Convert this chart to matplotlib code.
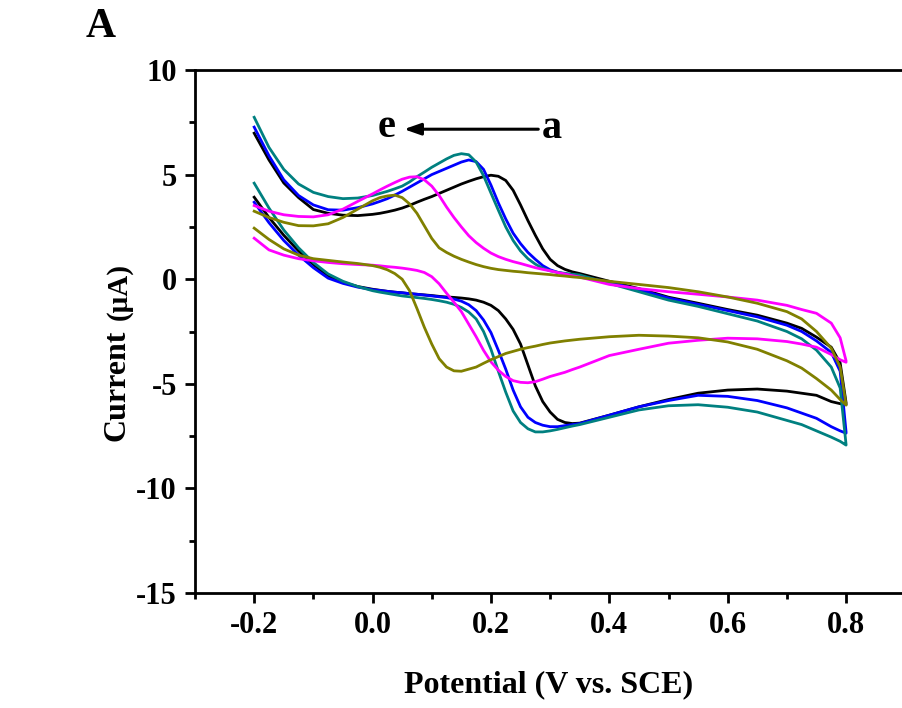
import matplotlib
matplotlib.use("Agg")
import matplotlib.pyplot as plt
from matplotlib.ticker import MultipleLocator, FormatStrFormatter

plt.rcParams['font.family'] = ['Liberation Serif', 'DejaVu Serif']
plt.rcParams['font.weight'] = 'bold'
plt.rcParams['axes.unicode_minus'] = False

# Potential grid (V vs. SCE) shared by all scans
V = [-0.2, -0.175, -0.15, -0.125, -0.1, -0.075, -0.05, -0.025,
     0.0, 0.0125, 0.025, 0.0375, 0.05, 0.0625, 0.075, 0.0875, 0.1, 0.1125,
     0.125, 0.1375, 0.15, 0.1625, 0.175, 0.1875, 0.2, 0.2125, 0.225, 0.2375,
     0.25, 0.2625, 0.275, 0.2875, 0.3, 0.3125, 0.325, 0.3375, 0.35,
     0.4, 0.45, 0.5, 0.55, 0.6, 0.65, 0.7, 0.725, 0.75, 0.775, 0.79, 0.8]

# Current (uA): forward (anodic) and reverse (cathodic) sweeps, on grid V
A_FWD = [6.98, 5.7, 4.6, 3.9, 3.33, 3.15, 3.06, 3.04,
         3.1, 3.15, 3.22, 3.3, 3.4, 3.53, 3.68, 3.82, 3.95, 4.1,
         4.25, 4.4, 4.55, 4.68, 4.8, 4.9, 4.97, 4.92, 4.72, 4.25,
         3.55, 2.8, 2.1, 1.45, 0.95, 0.65, 0.47, 0.35, 0.27,
         -0.1, -0.45, -0.86, -1.15, -1.45, -1.72, -2.1, -2.35, -2.77, -3.25, -4.0, -5.9]
A_REV = [3.92, 2.95, 2.1, 1.35, 0.7, 0.15, -0.15, -0.35,
         -0.48, -0.53, -0.58, -0.62, -0.65, -0.69, -0.72, -0.75, -0.78, -0.82,
         -0.85, -0.87, -0.9, -0.94, -1.0, -1.1, -1.25, -1.5, -1.9, -2.4,
         -3.1, -4.1, -5.1, -5.85, -6.35, -6.7, -6.85, -6.9, -6.88,
         -6.5, -6.1, -5.75, -5.45, -5.3, -5.25, -5.35, -5.45, -5.55, -5.85, -5.95, -6.0]

B_FWD = [7.27, 5.9, 4.75, 4.0, 3.55, 3.32, 3.3, 3.42,
         3.6, 3.72, 3.85, 4.02, 4.2, 4.4, 4.6, 4.8, 5.0, 5.15,
         5.3, 5.45, 5.6, 5.7, 5.62, 5.25, 4.5, 3.65, 2.88, 2.2,
         1.7, 1.28, 0.95, 0.65, 0.45, 0.33, 0.25, 0.2, 0.15,
         -0.15, -0.5, -0.9, -1.2, -1.5, -1.8, -2.2, -2.5, -2.95, -3.5, -4.4, -7.3]
B_REV = [3.68, 2.7, 1.85, 1.15, 0.55, 0.05, -0.2, -0.38,
         -0.5, -0.54, -0.58, -0.62, -0.65, -0.69, -0.72, -0.76, -0.8, -0.84,
         -0.88, -0.95, -1.05, -1.22, -1.5, -1.95, -2.55, -3.4, -4.3, -5.3,
         -6.1, -6.6, -6.85, -6.98, -7.05, -7.05, -7.0, -6.95, -6.9,
         -6.5, -6.1, -5.8, -5.55, -5.6, -5.8, -6.15, -6.4, -6.65, -7.05, -7.25, -7.36]

C_FWD = [7.74, 6.3, 5.25, 4.55, 4.15, 3.95, 3.85, 3.88,
         4.0, 4.1, 4.2, 4.32, 4.45, 4.65, 4.9, 5.12, 5.35, 5.55,
         5.75, 5.92, 6.0, 5.95, 5.6, 4.95, 4.12, 3.3, 2.5, 1.85,
         1.35, 0.98, 0.72, 0.52, 0.4, 0.33, 0.28, 0.24, 0.2,
         -0.2, -0.6, -1.0, -1.3, -1.65, -2.0, -2.5, -2.85, -3.39, -4.2, -5.2, -7.9]
C_REV = [4.59, 3.4, 2.35, 1.5, 0.8, 0.25, -0.1, -0.35,
         -0.55, -0.62, -0.68, -0.74, -0.8, -0.84, -0.88, -0.92, -0.97, -1.03,
         -1.1, -1.2, -1.35, -1.57, -1.9, -2.5, -3.35, -4.4, -5.4, -6.3,
         -6.85, -7.15, -7.3, -7.3, -7.25, -7.18, -7.1, -7.02, -6.95,
         -6.6, -6.25, -6.05, -6.0, -6.12, -6.35, -6.75, -6.95, -7.25, -7.55, -7.75, -7.93]

D_FWD = [3.52, 3.25, 3.08, 3.0, 2.98, 3.08, 3.35, 3.72,
         4.08, 4.27, 4.45, 4.62, 4.78, 4.88, 4.9, 4.75, 4.45, 4.0,
         3.45, 2.95, 2.5, 2.08, 1.75, 1.48, 1.25, 1.08, 0.95, 0.84,
         0.75, 0.65, 0.55, 0.47, 0.4, 0.32, 0.25, 0.17, 0.1,
         -0.25, -0.45, -0.6, -0.72, -0.85, -1.0, -1.25, -1.45, -1.63, -2.1, -2.8, -3.9]
D_REV = [1.96, 1.4, 1.15, 0.98, 0.88, 0.8, 0.74, 0.7,
         0.67, 0.64, 0.6, 0.57, 0.53, 0.48, 0.42, 0.32, 0.12, -0.22,
         -0.67, -1.1, -1.55, -2.15, -2.75, -3.4, -3.95, -4.35, -4.65, -4.85,
         -4.93, -4.95, -4.9, -4.78, -4.65, -4.55, -4.45, -4.32, -4.2,
         -3.65, -3.35, -3.06, -2.92, -2.82, -2.85, -2.98, -3.1, -3.25, -3.6, -3.85, -3.97]

E_FWD = [3.25, 2.95, 2.72, 2.56, 2.55, 2.65, 2.95, 3.35,
         3.75, 3.9, 3.98, 4.02, 3.9, 3.6, 3.15, 2.55, 1.95, 1.5,
         1.28, 1.1, 0.95, 0.82, 0.7, 0.6, 0.52, 0.46, 0.42, 0.38,
         0.35, 0.31, 0.28, 0.25, 0.22, 0.18, 0.15, 0.11, 0.08,
         -0.1, -0.25, -0.4, -0.6, -0.85, -1.15, -1.55, -1.9, -2.5, -3.3, -4.2, -6.0]
E_REV = [2.44, 1.9, 1.45, 1.15, 0.98, 0.9, 0.82, 0.75,
         0.65, 0.57, 0.45, 0.27, 0.0, -0.55, -1.4, -2.3, -3.1, -3.8,
         -4.2, -4.38, -4.4, -4.3, -4.2, -4.02, -3.85, -3.7, -3.55, -3.45,
         -3.35, -3.27, -3.2, -3.12, -3.05, -3.0, -2.95, -2.91, -2.87,
         -2.75, -2.68, -2.72, -2.8, -3.0, -3.35, -3.9, -4.25, -4.75, -5.3, -5.75, -6.02]

SERIES = [("a", A_FWD, A_REV, "#000000"),
          ("b", B_FWD, B_REV, "#0000FF"),
          ("c", C_FWD, C_REV, "#008080"),
          ("d", D_FWD, D_REV, "#FF00FF"),
          ("e", E_FWD, E_REV, "#808000")]

X_LABEL = "Potential (V vs. SCE)"

fig = plt.figure(figsize=(9.02, 7.08), dpi=100)
ax = fig.add_axes([195 / 902, 1 - 593 / 708, 1 - 195 / 902, (593 - 70) / 708])

for name, fwd, rev, col in SERIES:
    xs = V + V[::-1]
    ys = fwd + rev[::-1]
    ax.plot(xs, ys, color=col, lw=2.0, solid_joinstyle='round')

ax.set_xlim(-0.3, 0.8945)
ax.set_ylim(-15, 10)

ax.xaxis.set_major_locator(MultipleLocator(0.2))
ax.xaxis.set_minor_locator(MultipleLocator(0.1))
ax.xaxis.set_major_formatter(FormatStrFormatter('%.1f'))
ax.yaxis.set_major_locator(MultipleLocator(5))
ax.yaxis.set_minor_locator(MultipleLocator(2.5))

for s in ['left', 'bottom', 'top']:
    ax.spines[s].set_linewidth(2.0)
ax.spines['right'].set_visible(False)

ax.tick_params(which='major', direction='out', length=7, width=2.0,
               labelsize=22, pad=6)
ax.tick_params(which='minor', direction='out', length=4, width=2.0)
ax.tick_params(top=False, right=False, which='both')
for lab in ax.get_xticklabels() + ax.get_yticklabels():
    lab.set_fontweight('bold')

ax.set_xlabel(X_LABEL, fontsize=23, fontweight='bold', labelpad=22)

fig.text(117 / 902, 1 - 385 / 708, "Current", rotation=90, fontsize=23,
         fontweight='bold', ha='center', va='center')
fig.text(119 / 902, 1 - 291 / 708, "(\u03bcA)", rotation=90, fontsize=21,
         fontweight='bold', ha='center', va='center')

fig.text(101 / 902, 1 - 27 / 708, "A", fontsize=30, fontweight='bold',
         ha='center', va='center')

# e <---- a annotation
ax.annotate("", xy=(0.053, 7.17), xytext=(0.28, 7.17),
            arrowprops=dict(arrowstyle='-|>,head_length=1.0,head_width=0.35',
                            lw=2.2, color='black', shrinkA=0, shrinkB=0))
ax.text(0.023, 6.79, "e", fontsize=29, fontweight='bold', ha='center', va='baseline')
ax.text(0.303, 6.74, "a", fontsize=29, fontweight='bold', ha='center', va='baseline')

fig.savefig("out.png", dpi=100)
